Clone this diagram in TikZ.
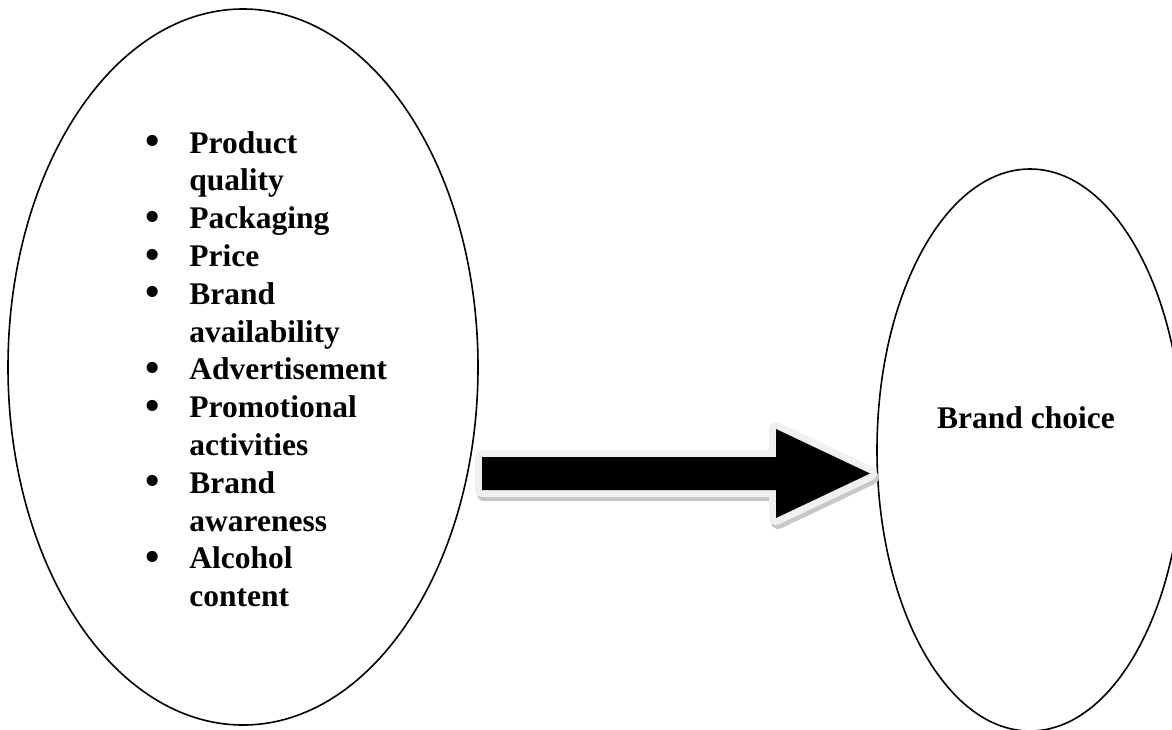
\documentclass[tikz,border=0pt]{standalone}
\usepackage{fontspec}
\setmainfont{Liberation Serif}
\usetikzlibrary{shapes.geometric,calc}

\newcommand{\bigbullet}{\raisebox{-0.8pt}{\scalebox{1.3}{\textbullet}}}

\tikzset{
  bubble/.style={draw, ellipse, line width=0.8pt, inner sep=0pt},
  itemtext/.style={font=\fontsize{15.75}{18.9}\selectfont\bfseries, inner sep=0pt},
  bigarrow/.pic={
    \path[pic actions] (0,-16.5) -- (294,-16.5) -- (294,-44.5) -- (388,0)
      -- (294,44.5) -- (294,16.5) -- (0,16.5) -- cycle;
  }
}

\begin{document}
\begin{tikzpicture}[x=0.5pt,y=-0.5pt]
    \useasboundingbox (0,0) rectangle (1172,729);
    \clip (0,0) rectangle (1172,729);
    % the two bubbles
    \node[bubble, minimum width=235pt, minimum height=358pt] (factors) at (243,367) {};
    \node[bubble, minimum width=153pt, minimum height=281pt] (choice) at (1030,450) {};
    \node[itemtext, anchor=base west] (list) at (145,153)
      {\begin{tabular}[t]{@{}p{22pt}@{}l@{}}
        \bigbullet & Product\\
                   & quality\\
        \bigbullet & Packaging\\
        \bigbullet & Price\\
        \bigbullet & Brand\\
                   & availability\\
        \bigbullet & Advertisement\\
        \bigbullet & Promotional\\
                   & activities\\
        \bigbullet & Brand\\
                   & awareness\\
        \bigbullet & Alcohol\\
                   & content
      \end{tabular}};
    \node[itemtext, anchor=base] (brand) at (1026,428) {Brand choice};
    % block arrow with its shadow
    \coordinate (tail) at (482,473.5);
    \pic[draw=black!22, fill=black!22, line width=7pt, line join=round] at ($(tail)+(2,4)$) {bigarrow};
    \pic[draw=black!6, fill=black!6, line width=7pt, line join=round] at (tail) {bigarrow};
    \pic[fill=black] at (tail) {bigarrow};
\end{tikzpicture}
\end{document}
